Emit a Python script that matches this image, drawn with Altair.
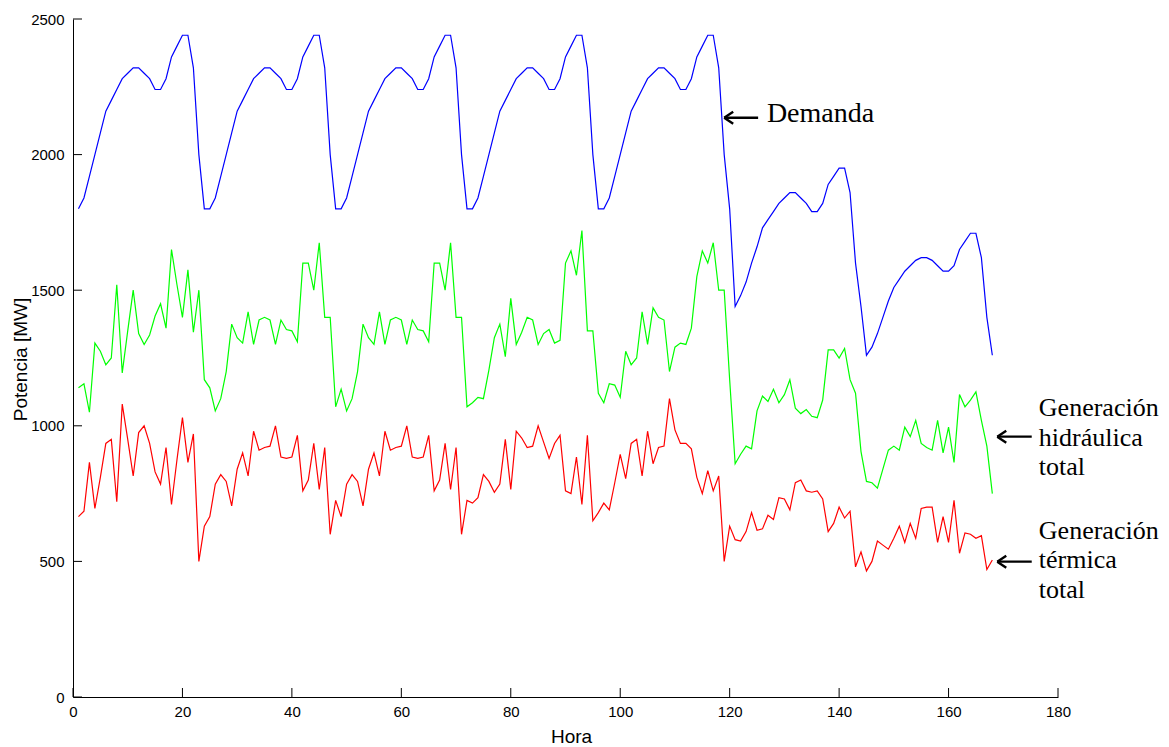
import altair as alt
import pandas as pd

# ---------------- data ----------------
horas = list(range(1, 169))

demanda = [
    # day 1
    1800, 1840, 1920, 2000, 2080, 2160, 2200, 2240, 2280, 2300, 2320, 2320,
    2300, 2280, 2240, 2240, 2280, 2360, 2400, 2440, 2440, 2320, 2000, 1800,
    # day 2
    1800, 1840, 1920, 2000, 2080, 2160, 2200, 2240, 2280, 2300, 2320, 2320,
    2300, 2280, 2240, 2240, 2280, 2360, 2400, 2440, 2440, 2320, 2000, 1800,
    # day 3
    1800, 1840, 1920, 2000, 2080, 2160, 2200, 2240, 2280, 2300, 2320, 2320,
    2300, 2280, 2240, 2240, 2280, 2360, 2400, 2440, 2440, 2320, 2000, 1800,
    # day 4
    1800, 1840, 1920, 2000, 2080, 2160, 2200, 2240, 2280, 2300, 2320, 2320,
    2300, 2280, 2240, 2240, 2280, 2360, 2400, 2440, 2440, 2320, 2000, 1800,
    # day 5
    1800, 1840, 1920, 2000, 2080, 2160, 2200, 2240, 2280, 2300, 2320, 2320,
    2300, 2280, 2240, 2240, 2280, 2360, 2400, 2440, 2440, 2320, 2000, 1800,
    # day 6
    1440, 1480, 1530, 1600, 1660, 1730, 1760, 1790, 1820, 1840, 1860, 1860,
    1840, 1820, 1790, 1790, 1820, 1890, 1920, 1950, 1950, 1860, 1600, 1440,
    # day 7
    1260, 1290, 1340, 1400, 1460, 1510, 1540, 1570, 1590, 1610, 1620, 1620,
    1610, 1590, 1570, 1570, 1590, 1650, 1680, 1710, 1710, 1620, 1400, 1260,
]

hidraulica = [
    1140, 1155, 1050, 1305, 1275, 1225, 1250, 1520, 1195, 1350, 1500, 1340,
    1300, 1335, 1405, 1450, 1360, 1650, 1520, 1400, 1575, 1345, 1500, 1170,
    1140, 1055, 1100, 1200, 1375, 1325, 1305, 1420, 1300, 1390, 1400, 1390,
    1300, 1390, 1355, 1350, 1310, 1600, 1600, 1500, 1675, 1400, 1400, 1070,
    1135, 1055, 1100, 1200, 1375, 1325, 1300, 1420, 1300, 1390, 1400, 1390,
    1300, 1390, 1355, 1350, 1310, 1600, 1600, 1500, 1675, 1400, 1400, 1070,
    1085, 1105, 1100, 1205, 1325, 1375, 1255, 1470, 1300, 1345, 1400, 1390,
    1300, 1340, 1355, 1305, 1315, 1600, 1645, 1555, 1720, 1350, 1350, 1120,
    1085, 1155, 1150, 1105, 1275, 1225, 1250, 1420, 1300, 1435, 1400, 1390,
    1200, 1290, 1305, 1300, 1360, 1550, 1645, 1600, 1675, 1500, 1500, 1170,
    860, 895, 925, 915, 1055, 1110, 1090, 1135, 1085, 1115, 1170, 1065,
    1045, 1060, 1035, 1030, 1095, 1280, 1280, 1250, 1285, 1170, 1120, 905,
    795, 790, 770, 840, 910, 925, 910, 995, 960, 1020, 935, 920,
    910, 1020, 900, 995, 865, 1115, 1070, 1095, 1125, 1020, 925, 750,
]

termica = [
    665, 685, 865, 695, 810, 935, 950, 720, 1080, 950, 815, 975,
    1000, 935, 830, 785, 920, 710, 875, 1030, 865, 970, 500, 630,
    665, 785, 820, 795, 705, 840, 900, 815, 980, 910, 920, 925,
    1000, 885, 880, 885, 965, 760, 800, 935, 765, 920, 600, 725,
    665, 785, 820, 795, 705, 840, 900, 815, 980, 910, 920, 925,
    1000, 885, 880, 885, 965, 760, 800, 935, 765, 920, 600, 725,
    715, 735, 820, 795, 755, 785, 950, 765, 980, 955, 920, 925,
    1000, 940, 880, 935, 965, 760, 750, 885, 710, 965, 650, 680,
    715, 690, 790, 895, 805, 935, 950, 815, 980, 860, 920, 925,
    1100, 985, 935, 935, 915, 810, 750, 835, 760, 815, 500, 630,
    580, 575, 610, 680, 615, 620, 670, 655, 735, 730, 690, 790,
    800, 760, 755, 760, 730, 610, 640, 700, 660, 685, 480, 535,
    465, 500, 575, 560, 545, 585, 630, 570, 640, 585, 695, 700,
    700, 570, 665, 570, 725, 530, 605, 600, 585, 595, 470, 505,
]

series_names = ["Demanda", "Generación hidráulica total", "Generación térmica total"]
series_colors = ["#0000FF", "#00FF00", "#FF0000"]

xticks = [0, 20, 40, 60, 80, 100, 120, 140, 160, 180]
yticks = [0, 500, 1000, 1500, 2000, 2500]

# annotation arrows (data coordinates)
arrow_tip_h = [119.0, 168.9, 168.9]
arrow_tail_h = [125.2, 175.2, 175.2]
arrow_v = [2136, 960, 499]

# annotation text lines (data coordinates)
label_lines = ["Demanda", "Generación", "hidráulica", "total",
               "Generación", "térmica", "total"]
label_h = [126.8, 176.5, 176.5, 176.5, 176.5, 176.5, 176.5]
label_v = [2119, 1036, 927, 819, 581, 475, 364]
label_size = [28, 26, 26, 26, 26, 26, 26]

# ---------------- tables ----------------
rows = []
for name, vals in zip(series_names, [demanda, hidraulica, termica]):
    for h, v in zip(horas, vals):
        rows.append({"x": h, "y": v, "serie": name})
lines_df = pd.DataFrame(rows)

arrows_df = pd.DataFrame({"x": arrow_tip_h, "tail": arrow_tail_h, "y": arrow_v})
labels_df = pd.DataFrame({"x": label_h, "y": label_v, "txt": label_lines, "fs": label_size})
xt_df = pd.DataFrame({"x": xticks})
yt_df = pd.DataFrame({"y": yticks})

W, H = 985, 678
xscale = alt.Scale(domain=[0, 180], nice=False, zero=False)
yscale = alt.Scale(domain=[0, 2500], nice=False, zero=False)

FONT = "Liberation Sans"

x_axis = alt.Axis(
    values=xticks, format="d", tickSize=0, grid=False,
    domainColor="black", domainWidth=1,
    labelFont=FONT, labelFontSize=15, labelColor="black", labelPadding=7,
    labelFlush=False, labelOverlap=False,
    titleFont=FONT, titleFontSize=19, titleFontWeight="normal",
    titleColor="black", titleX=498, titleY=39, titleAlign="center",
    titleBaseline="middle",
)
y_axis = alt.Axis(
    values=yticks, format="d", tickSize=0, grid=False,
    domainColor="black", domainWidth=1,
    labelFont=FONT, labelFontSize=15, labelColor="black", labelPadding=9,
    labelFlush=False, labelOverlap=False,
    titleFont=FONT, titleFontSize=19,
    titleFontWeight="normal", titleColor="black", titleX=-53, titleY=340,
    titleAlign="center", titleBaseline="middle", titleAngle=270,
)

X = alt.X("x:Q", scale=xscale, axis=x_axis, title="Hora")
Y = alt.Y("y:Q", scale=yscale, axis=y_axis, title="Potencia [MW]")

lines = alt.Chart(lines_df).mark_line(strokeWidth=1.2).encode(
    x=X, y=Y,
    color=alt.Color("serie:N", scale=alt.Scale(domain=series_names, range=series_colors), legend=None),
    detail="serie:N",
)

xtick_rules = alt.Chart(xt_df).mark_rule(color="black", strokeWidth=1).encode(
    x=X, y=alt.value(H), y2=alt.value(H - 9),
)
ytick_rules = alt.Chart(yt_df).mark_rule(color="black", strokeWidth=1).encode(
    y=Y, x=alt.value(0), x2=alt.value(9),
)

shafts = alt.Chart(arrows_df).mark_rule(color="black", strokeWidth=2.4).encode(
    x=X, x2="tail:Q", y=Y,
)
heads = alt.Chart(arrows_df).mark_point(
    shape="M0,0L1.5,-1M0,0L1.5,1", size=144, filled=False,
    stroke="black", strokeWidth=2.4, opacity=1,
).encode(x=X, y=Y)

texts = alt.Chart(labels_df).mark_text(
    font="Liberation Serif", align="left", baseline="alphabetic", color="black",
).encode(
    x=X, y=Y,
    text="txt:N",
    size=alt.Size("fs:Q", scale=None, legend=None),
)

chart = alt.layer(lines, xtick_rules, ytick_rules, shafts, heads, texts).properties(
    width=W, height=H,
    autosize=alt.AutoSizeParams(type="none"),
    padding={"left": 65, "top": 11, "right": 103, "bottom": 50},
    background="white",
).configure_view(stroke=None)

chart.save("out.html", embed_options={"renderer": "svg", "actions": False})
